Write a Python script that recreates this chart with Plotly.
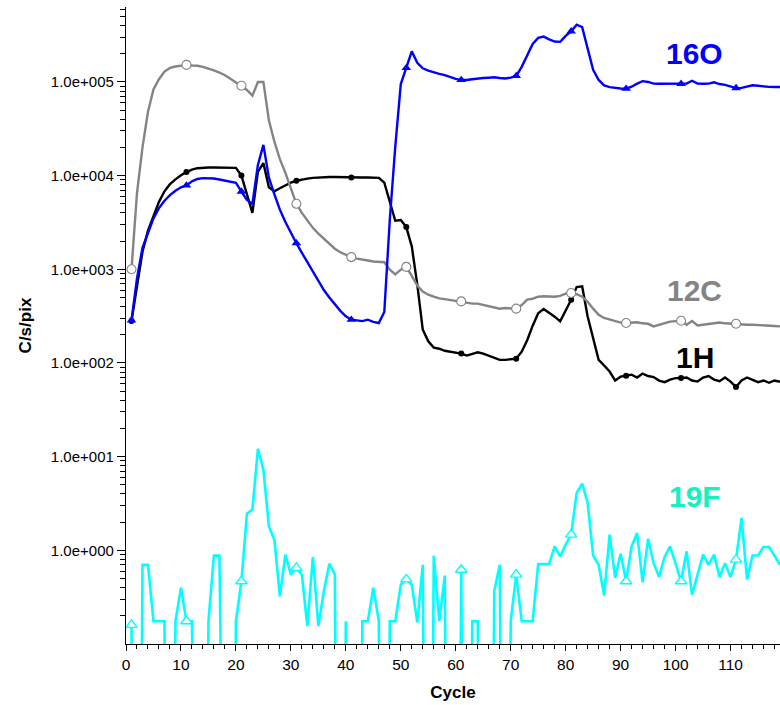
import plotly.graph_objects as go

# Acquisition cycles (one reading per cycle)
cycles = list(range(1, 120))

# Count rates in C/s/pix for each isotope
h1 = [280, 685, 1540, 2580, 3670, 5250, 6800, 8100, 9130, 10100,
      10900, 11600, 12000, 12200, 12200, 12200, 12200, 12100, 12100, 12100,
      10000, 6200, 4000, 11000, 13600, 7500, 6800, 7340, 7900, 8400,
      8810, 9100, 9300, 9450, 9550, 9600, 9650, 9650, 9600, 9600,
      9560, 9560, 9560, 9560, 9550, 9450, 8400, 5100, 3300, 3350,
      2820, 1760, 685, 227, 170, 146, 142, 135, 132, 129,
      126, 120, 124, 130, 126, 120, 114, 108, 108, 110,
      111, 132, 175, 250, 340, 377, 344, 312, 278, 361,
      474, 646, 657, 314, 178, 108, 94, 81, 65, 71.4,
      73, 75, 70, 77, 72.5, 70.7, 64.8, 62.4, 66.4, 68.9,
      69, 70, 65, 63.3, 70, 72.5, 66.4, 64, 70, 63.3,
      55.5, 65, 70, 66, 62.4, 65, 61.5, 65, 63]

c12 = [1000, 6500, 20000, 48000, 83000, 107000, 129000, 141000, 146000, 149000,
       152000, 150000, 149000, 145000, 140000, 133000, 126000, 118000, 108000, 99000,
       91000, 82000, 71500, 100000, 100000, 39000, 23000, 15000, 10700, 7400,
       5000, 4000, 3300, 2770, 2400, 2120, 1880, 1660, 1520, 1430,
       1350, 1300, 1260, 1240, 1210, 1200, 1190, 990, 880, 990,
       1060, 850, 670, 580, 535, 510, 490, 480, 470, 462,
       454, 440, 430, 430, 417, 407, 394, 380, 386, 380,
       380, 415, 474, 485, 510, 515, 510, 510, 520, 550,
       558, 542, 510, 450, 380, 327, 302, 290, 282, 270,
       267, 269, 272, 265, 262, 246, 256, 268, 276, 280,
       282, 256, 280, 251, 256, 262, 268, 270, 265, 262,
       262, 260, 256, 256, 253, 253, 251, 248, 246]

o16 = [285, 800, 1700, 2500, 3500, 4500, 5400, 6200, 6900, 7500,
       7850, 8700, 9200, 9400, 9400, 9300, 9100, 8900, 8700, 8400,
       6760, 5500, 5000, 13000, 21300, 9500, 6300, 4330, 3200, 2450,
       1900, 1500, 1200, 930, 750, 600, 500, 420, 360, 315,
       290, 285, 280, 290, 275, 267, 350, 3400, 20500, 95000,
       141000, 212000, 160000, 140000, 132000, 128000, 122000, 118000, 112000, 108000,
       105000, 105000, 107000, 109000, 110000, 111000, 112000, 110000, 109000, 111000,
       116000, 145000, 195000, 255000, 295000, 305000, 285000, 270000, 268000, 310000,
       347000, 408000, 385000, 220000, 135000, 105000, 92000, 88000, 86000, 85000,
       84600, 89000, 96000, 102000, 100000, 96000, 95500, 95500, 96000, 97000,
       95500, 96000, 103000, 96000, 95500, 96000, 99000, 95000, 93000, 89000,
       86000, 86500, 89000, 92000, 91000, 89000, 88500, 88300, 88300]

f19 = [0.16, 0, 0.70, 0.70, 0.175, 0.175, 0.175, 0, 0.175, 0.40,
       0.175, 0.175, 0, 0, 0.175, 0.877, 0.877, 0, 0, 0.175,
       0.467, 2.46, 2.72, 12.1, 7.27, 1.80, 1.30, 0.323, 0.90, 0.55,
       0.65, 0.55, 0.155, 0.85, 0.155, 0.365, 0.72, 0.55, 0, 0.175,
       0, 0, 0.175, 0.175, 0.40, 0.175, 0, 0.175, 0.175, 0.43,
       0.49, 0.43, 0.17, 0.70, 0, 0.877, 0.175, 0.537, 0, 0,
       0.62, 0, 0.175, 0.175, 0, 0, 0.365, 0.70, 0, 0.175,
       0.55, 0.175, 0.175, 0.175, 0.715, 0.715, 0.715, 1.10, 0.86, 1.15,
       1.47, 4.1, 5.15, 3.2, 0.88, 0.70, 0.33, 1.47, 0.51, 0.92,
       0.467, 1.10, 1.53, 0.455, 1.33, 0.733, 0.52, 0.85, 1.10, 0.72,
       0.467, 0.975, 0.337, 0.55, 0.90, 0.70, 0.90, 0.52, 0.73, 0.52,
       0.795, 2.22, 0.49, 0.88, 0.88, 1.087, 1.087, 0.88, 0.70]

# Symbols are placed on every tenth cycle
marker_cycles = cycles[::10]

y_tick_vals = [1, 10, 100, 1000, 10000, 100000]
y_tick_text = ["1.0e+000", "1.0e+001", "1.0e+002", "1.0e+003", "1.0e+004", "1.0e+005"]

FONT = "Liberation Sans, Arial, Helvetica, sans-serif"
ZERO_FLOOR = 1e-9  # zero counts drop straight to the bottom of the log axis


def plot_values(vals):
    return [v if v > 0 else ZERO_FLOOR for v in vals]


def marker_points(vals):
    xs, ys = [], []
    for c, v in zip(cycles, vals):
        if c in marker_cycles and v > 0:
            xs.append(c)
            ys.append(v)
    return xs, ys


series = [
    # name, values, line colour, line width, marker symbol, fill, size, outline width
    ("19F", f19, "#00FFFF", 2.6, "triangle-up", "white", 10, 1.4),
    ("1H", h1, "#000000", 2.4, "circle", "#000000", 6, 0),
    ("12C", c12, "#848484", 2.4, "circle", "white", 9, 1.1),
    ("16O", o16, "#0000FF", 2.4, "triangle-up", "#0000FF", 8.5, 0),
]

fig = go.Figure()
for name, vals, color, width, symbol, fill, size, lw in series:
    fig.add_trace(go.Scatter(
        x=cycles, y=plot_values(vals), mode="lines", name=name,
        line=dict(color=color, width=width), showlegend=False,
    ))
    mx, my = marker_points(vals)
    fig.add_trace(go.Scatter(
        x=mx, y=my, mode="markers", name=name, showlegend=False,
        marker=dict(symbol=symbol, size=size, color=fill,
                    line=dict(color=color, width=lw)),
    ))

labels = [
    ("16O", "#0000FF", 0.870, 0.927),
    ("12C", "#848484", 0.870, 0.555),
    ("1H", "#000000", 0.870, 0.4505),
    ("19F", "#14F0BE", 0.870, 0.232),
]
for text, color, x, y in labels:
    fig.add_annotation(
        text=text, xref="paper", yref="paper", x=x, y=y,
        xanchor="center", yanchor="middle", showarrow=False,
        font=dict(family=FONT, size=30, color=color, weight="bold"),
    )

minor_y = [m * 10 ** e for e in range(-1, 6) for m in range(2, 10)]

fig.update_layout(
    width=780, height=705,
    margin=dict(l=126, r=0, t=7, b=61),
    paper_bgcolor="white", plot_bgcolor="white",
    font=dict(family=FONT, size=15, color="black"),
    xaxis=dict(
        range=[0, 119], showgrid=False, zeroline=False,
        showline=True, linecolor="black", linewidth=1.3,
        ticks="outside", tickmode="linear", tick0=0, dtick=10,
        ticklen=6, tickwidth=1.2, tickcolor="black",
        tickfont=dict(family=FONT, size=15.5, color="black"),
        minor=dict(ticks="outside", dtick=2, tick0=0, ticklen=3.5,
                   tickwidth=1, tickcolor="black", showgrid=False),
        title=dict(text="Cycle", standoff=14,
                   font=dict(family=FONT, size=17, color="black", weight="bold")),
    ),
    yaxis=dict(
        type="log", range=[-1, 5.8], showgrid=False, zeroline=False,
        showline=True, linecolor="black", linewidth=1.3,
        ticks="outside", tickmode="array", tickvals=y_tick_vals, ticktext=y_tick_text,
        ticklen=8, tickwidth=1.2, tickcolor="black",
        tickfont=dict(family=FONT, size=15, color="black"),
        minor=dict(ticks="outside", tickmode="array", tickvals=minor_y, ticklen=5,
                   tickwidth=1, tickcolor="black", showgrid=False),
        title=dict(text="C/s/pix", standoff=14,
                   font=dict(family=FONT, size=17, color="black", weight="bold")),
    ),
)

fig.write_html("out.html")
